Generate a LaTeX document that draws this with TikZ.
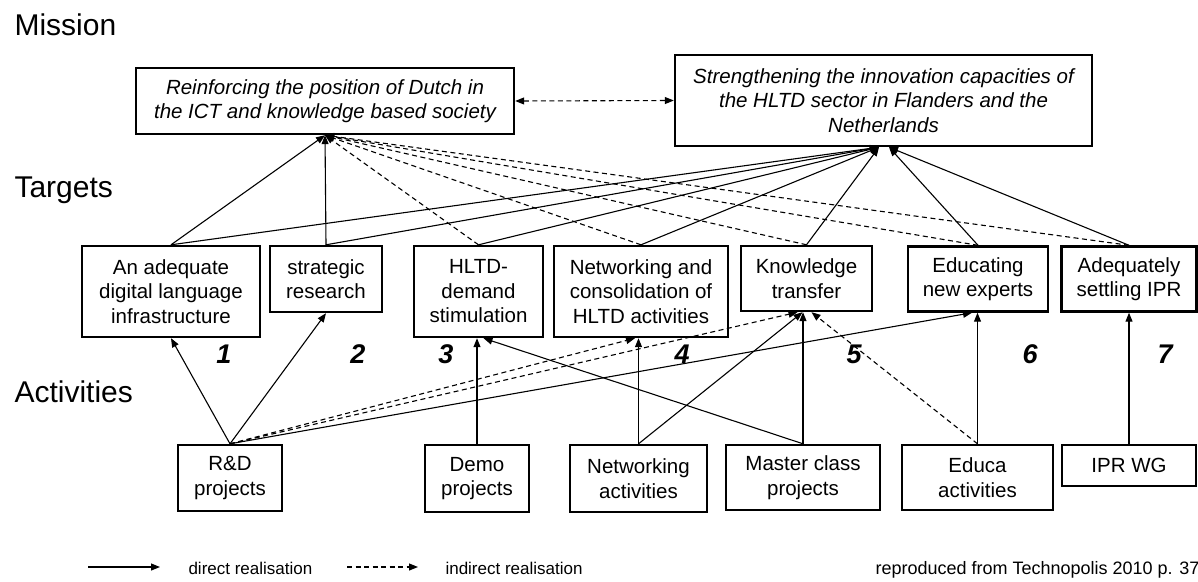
\documentclass[tikz,border=0pt]{standalone}
\usepackage{fontspec}
\setmainfont{Liberation Sans}
\usetikzlibrary{arrows.meta}
\begin{document}
\begin{tikzpicture}[x=1pt,y=-1pt,
  box/.style={draw,line width=2.4pt,rectangle,inner sep=0pt,align=center,fill=white,
    font=\fontsize{20.5}{24.5}\selectfont},
  mbox/.style={box,font=\fontsize{20.5}{24.5}\selectfont\itshape},
  conn/.style={line width=1.1pt,-{Triangle[length=9pt,width=7pt]}},
  dconn/.style={conn,dash pattern=on 5pt off 3.5pt},
  cat/.style={anchor=base west,font=\fontsize{30}{36}\selectfont},
  num/.style={anchor=base,font=\fontsize{27}{32}\selectfont\bfseries\itshape},
  leg/.style={anchor=base west,font=\fontsize{17}{20}\selectfont}]
\useasboundingbox (0,0) rectangle (1198,581);

% category labels
\node[cat] (lmis) at (11,35) {Mission};
\node[cat] (ltar) at (11,197) {Targets};
\node[cat] (lact) at (11,402) {Activities};

% missions
\node[mbox,minimum width=378pt,minimum height=66pt] (m1) at (325,101)
  {Reinforcing the position of Dutch in\\the ICT and knowledge based society};
\node[mbox,minimum width=417pt,minimum height=91pt] (m2) at (883.5,100.5)
  {Strengthening the innovation capacities of\\the HLTD sector in Flanders and the\\Netherlands};

% targets
\node[box,minimum width=178pt,minimum height=91pt] (t1) at (171,291.5)
  {An adequate\\digital language\\infrastructure};
\node[box,minimum width=112pt,minimum height=66pt] (t2) at (326,279)
  {strategic\\research};
\node[box,minimum width=129pt,minimum height=91pt] (t3) at (478.5,291.5)
  {HLTD-\\demand\\stimulation};
\node[box,minimum width=174pt,minimum height=91pt] (t4) at (641,291.5)
  {Networking and\\consolidation of\\HLTD activities};
\node[box,minimum width=131pt,minimum height=65pt] (t5) at (806.5,278.5)
  {Knowledge\\transfer};
\node[box,minimum width=140pt,minimum height=65pt] (t6) at (978,279)
  {Educating\\new experts};
\node[box,minimum width=135pt,minimum height=65pt] (t7) at (1129,279)
  {Adequately\\settling IPR};

% numbers
\node[num] (n1) at (224,363) {1};
\node[num] (n2) at (358,363) {2};
\node[num] (n3) at (446,363) {3};
\node[num] (n4) at (682,363) {4};
\node[num] (n5) at (854,363) {5};
\node[num] (n6) at (1030,363) {6};
\node[num] (n7) at (1165,363) {7};

% activities
\node[box,minimum width=104pt,minimum height=66pt] (a1) at (230,478) {R\&D\\projects};
\node[box,minimum width=104pt,minimum height=67pt] (a2) at (477,478.5) {Demo\\projects};
\node[box,minimum width=137pt,minimum height=67pt] (a3) at (638.5,478.5) {Networking\\activities};
\node[box,minimum width=154pt,minimum height=65pt] (a4) at (803,477.5) {Master class\\projects};
\node[box,minimum width=151pt,minimum height=65pt] (a5) at (977.5,477.5) {Educa\\activities};
\node[box,minimum width=134pt,minimum height=41pt] (a6) at (1129,465.5) {IPR WG};

% mission link
\draw[dconn,{Triangle[length=9pt,width=7pt]}-{Triangle[length=9pt,width=7pt]}] (m1.east) -- (m2.west);

% arrival points
\coordinate (m1in) at (m1.south);
\coordinate (m2L) at ([xshift=-4.5pt]m2.south);
\coordinate (m2R) at ([xshift=5.5pt]m2.south);

% targets -> missions
\draw[conn]  (t1.north) -- (m1in);
\draw[conn]  (t1.north) -- (m2L);
\draw[conn]  (t2.north) -- (m1in);
\draw[conn]  (t2.north) -- (m2L);
\draw[dconn] (t3.north) -- (m1in);
\draw[conn]  (t3.north) -- (m2L);
\draw[dconn] (t4.north) -- (m1in);
\draw[conn]  (t4.north) -- (m2L);
\draw[dconn] (t5.north) -- (m1in);
\draw[conn]  (t5.north) -- (m2L);
\draw[dconn] (t6.north) -- (m1in);
\draw[conn]  (t6.north) -- (m2R);
\draw[dconn] (t7.north) -- (m1in);
\draw[conn]  (t7.north) -- (m2R);

% activities -> targets
\draw[conn]  (a1.north) -- (t1.south);
\draw[conn]  (a1.north) -- (t2.south);
\draw[dconn] (a1.north) -- ([xshift=-6pt]t4.south);
\draw[dconn] (a1.north) -- ([xshift=-9pt]t5.south);
\draw[conn]  (a1.north) -- ([xshift=-6pt]t6.south);
\draw[conn]  (a2.north) -- (a2.north |- t3.south);
\draw[conn]  (a4.north) -- ([xshift=5pt]t3.south);
\draw[conn]  (a3.north) -- (a3.north |- t4.south);
\draw[conn]  (a3.north) -- ([xshift=-4pt]t5.south);
\draw[conn]  (a4.north) -- (a4.north |- t5.south);
\draw[dconn] (a5.north) -- ([xshift=5pt]t5.south);
\draw[conn]  (a5.north) -- (a5.north |- t6.south);
\draw[conn]  (a6.north) -- (a6.north |- t7.south);

% legend
\coordinate (l1a) at (88,567);
\coordinate (l1b) at (160,567);
\coordinate (l2a) at (347,567);
\coordinate (l2b) at (418,567);
\draw[conn] (l1a) -- (l1b);
\draw[dconn] (l2a) -- (l2b);
\node[leg] (ld) at (185,574) {direct realisation};
\node[leg] (li) at (442,574) {indirect realisation};
\node[leg,font=\fontsize{18}{21}\selectfont] (src) at (872,574) {reproduced from Technopolis 2010 p. 37};
\end{tikzpicture}
\end{document}
